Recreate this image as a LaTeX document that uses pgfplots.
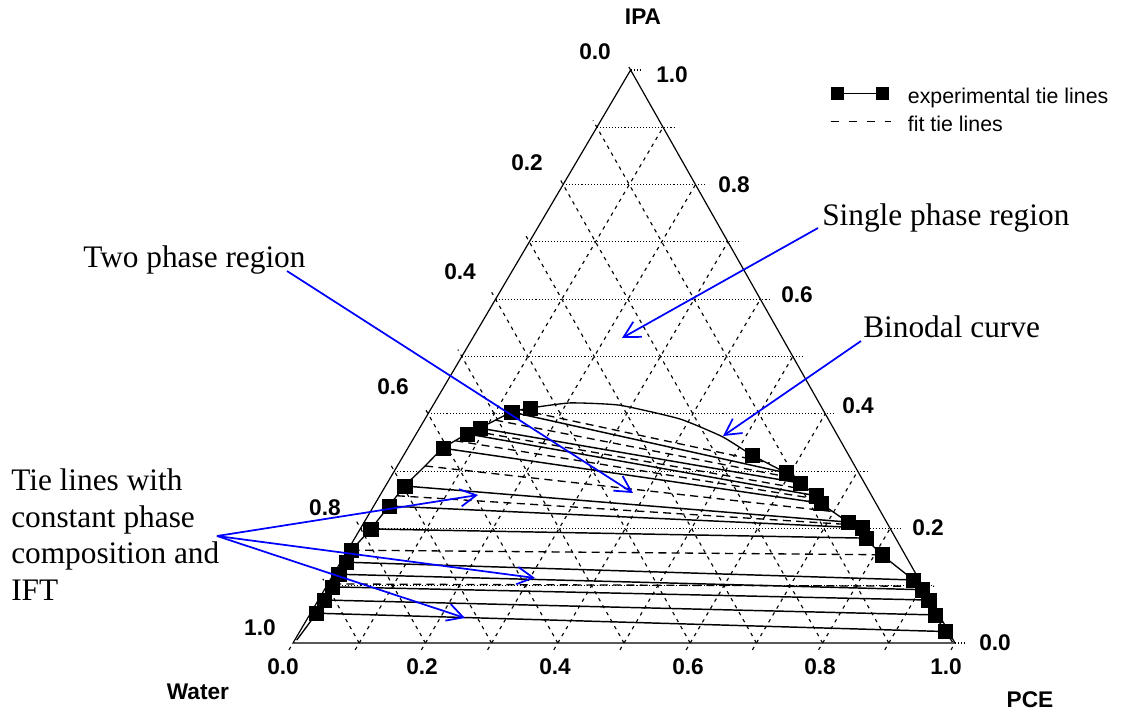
\documentclass[border=0pt]{standalone}
\usepackage{fontspec}
\setmainfont{Liberation Serif}
\newfontfamily\arial{Liberation Sans}
\usepackage{pgfplots}
\pgfplotsset{compat=1.18}
\usetikzlibrary{arrows.meta}
\definecolor{annblue}{RGB}{0,0,255}
% ternary (PCE, IPA) -> pixel frame of the reference
\newcommand\T[2]{({293+662*((#1)+0.51*(#2))},{643-573*(#2)})}
\tikzset{
  gdot/.style={black, line width=0.8pt, dash pattern=on 0.8pt off 1.5pt},
  gdash/.style={black, line width=0.85pt, dash pattern=on 2.6pt off 3.4pt},
  ann/.style={annblue, line width=1.3pt, -{Straight Barb[length=12pt,width=13pt,line width=1.3pt]}},
  tick/.style={font=\arial\bfseries\fontsize{17}{19}\selectfont, inner sep=0pt},
  txt/.style={font=\fontsize{23.5}{28}\selectfont, inner sep=0pt, anchor=base west}
}
\begin{document}
\begin{tikzpicture}
\begin{scope}[x=0.75pt,y=-0.75pt,yshift=536.25pt]
  % IPA = const (dotted, tick stub on right edge)
  \foreach \k in {1,...,9} {\draw[gdot] \T{0}{\k/10} -- \T{1-\k/10+0.016}{\k/10};}
  \draw[gdot] \T{1}{0} -- \T{1.016}{0};
  \draw[gdot] \T{0}{1} -- \T{0.016}{1};
  % PCE = const (dashed, stub below base)
  \foreach \k in {1,...,9} {\draw[gdash] \T{\k/10}{-0.012} -- \T{\k/10}{1-\k/10};}
  \draw[gdash] \T{0}{-0.012} -- \T{0}{0};
  \draw[gdash] \T{1}{-0.012} -- \T{1}{0};
  % Water = const (dashed, stub beyond left edge)
  \foreach \k in {1,...,9} {\draw[gdash] \T{1-\k/10}{0} -- \T{-0.012}{1-\k/10+0.012};}
  \draw[gdash] \T{0}{1} -- \T{-0.012}{1.012};
  % triangle
  \draw[black, line width=0.9pt] \T{0}{0} -- \T{1}{0} -- \T{0}{1} -- cycle;
\end{scope}

\begin{axis}[at={(0,0)}, anchor=south west, scale only axis,
  width=842.25pt, height=536.25pt,
  xmin=-0.44260, xmax=1.25378, ymin=-0.12565, ymax=1.12216,
  hide axis, clip=false,
  legend style={draw=none, fill=none, inner sep=0pt, outer sep=0pt,
    at={(axis description cs:0.7391,0.8778)}, anchor=north west,
    row sep=6pt, cells={anchor=west},
    font=\arial\fontsize{16}{18}\selectfont,
    nodes={inner sep=1pt, text height=10pt, text depth=3pt}},
]
\addlegendimage{legend image code/.code={
  \draw[black, line width=0.9pt, mark=square*, mark size=4.5pt] plot coordinates {(0pt,4pt) (34pt,4pt)};
  \path[draw=none, fill=none] (0pt,0pt) -- (52pt,0pt);}}
\addlegendentry{experimental tie lines}
\addlegendimage{legend image code/.code={
  \draw[black, line width=0.9pt, dash pattern=on 6pt off 7.5pt] (-5pt,4pt) -- (40pt,4pt);
  \path[draw=none, fill=none] (0pt,0pt) -- (52pt,0pt);}}
\addlegendentry{fit tie lines}

% binodal curve
\addplot[forget plot, black, line width=1pt, smooth, tension=0.3]
  table[x expr=\thisrow{pce}+0.51*\thisrow{ipa}, y=ipa] {
pce ipa
0.003 0.005
0.009 0.052
0.009 0.075
0.009 0.098
0.008 0.120
0.008 0.141
0.006 0.162
0.016 0.199
0.023 0.239
0.029 0.274
0.042 0.309
0.053 0.340
0.077 0.365
0.091 0.375
0.125 0.403
0.149 0.410
0.205 0.419
0.282 0.415
0.385 0.391
0.465 0.360
0.526 0.328
0.593 0.297
0.624 0.279
0.659 0.257
0.673 0.244
0.731 0.211
0.757 0.201
0.772 0.183
0.811 0.154
0.881 0.110
0.903 0.093
0.922 0.075
0.945 0.049
0.975 0.020
0.995 0.002
};

% fit tie lines
\addplot[forget plot, black, line width=1pt, dash pattern=on 6pt off 4pt, empty line=jump]
  table[x expr=\thisrow{pce}+0.51*\thisrow{ipa}, y=ipa] {
pce ipa
0.136 0.407
0.560 0.314

0.107 0.389
0.608 0.288

0.083 0.370
0.642 0.267

0.065 0.353
0.665 0.251

0.042 0.309
0.702 0.229

0.026 0.257
0.744 0.206

0.006 0.162
0.811 0.154

0.008 0.103
0.918 0.099
};

% experimental tie lines
\addplot[forget plot, black, line width=1.1pt, empty line=jump]
  table[x expr=\thisrow{pce}+0.51*\thisrow{ipa}, y=ipa] {
pce ipa
0.125 0.403
0.593 0.297

0.091 0.375
0.624 0.279

0.077 0.365
0.659 0.257

0.053 0.340
0.673 0.244

0.029 0.274
0.731 0.211

0.023 0.239
0.757 0.201

0.016 0.199
0.772 0.183

0.008 0.141
0.881 0.110

0.008 0.120
0.903 0.093

0.009 0.098
0.922 0.075

0.009 0.075
0.945 0.049

0.009 0.052
0.975 0.020
};

% experimental points
\addplot[forget plot, only marks, mark=square*, mark size=5.3pt, black]
  table[x expr=\thisrow{pce}+0.51*\thisrow{ipa}, y=ipa] {
pce ipa
0.149 0.410
0.125 0.403
0.091 0.375
0.077 0.365
0.053 0.340
0.029 0.274
0.023 0.239
0.016 0.199
0.006 0.162
0.008 0.141
0.008 0.120
0.009 0.098
0.009 0.075
0.009 0.052
0.526 0.328
0.593 0.297
0.624 0.279
0.659 0.257
0.673 0.244
0.731 0.211
0.757 0.201
0.772 0.183
0.811 0.154
0.881 0.110
0.903 0.093
0.922 0.075
0.945 0.049
0.975 0.020
};
\end{axis}

\begin{scope}[x=0.75pt,y=-0.75pt,yshift=536.25pt]
  % vertex labels
  \node[tick] at (643,17) {IPA};
  \node[tick] at (198,692) {Water};
  \node[tick] at (1030,700) {PCE};
  % Water scale (left)
  \node[tick] at (595,52) {0.0};
  \node[tick] at (527,163) {0.2};
  \node[tick] at (460,272) {0.4};
  \node[tick] at (393,387) {0.6};
  \node[tick] at (325,508) {0.8};
  \node[tick] at (260,628) {1.0};
  % IPA scale (right)
  \node[tick] at (672,75) {1.0};
  \node[tick] at (734,185) {0.8};
  \node[tick] at (797,295) {0.6};
  \node[tick] at (858,406) {0.4};
  \node[tick] at (928,528) {0.2};
  \node[tick] at (995,643) {0.0};
  % PCE scale (bottom)
  \node[tick] at (283,667) {0.0};
  \node[tick] at (422,667) {0.2};
  \node[tick] at (555,667) {0.4};
  \node[tick] at (688,667) {0.6};
  \node[tick] at (820,667) {0.8};
  \node[tick] at (946,667) {1.0};
  % annotations
  \node[txt] at (83,268) {Two phase region};
  \draw[ann] (287,271) -- (633,493);
  \node[txt] at (822,226) {Single phase region};
  \draw[ann] (818,228) -- (622,338);
  \node[txt] at (863,337) {Binodal curve};
  \draw[ann] (861,341) -- (723,436);
  \node[txt] at (11,490) {Tie lines with};
  \node[txt] at (11,527) {constant phase};
  \node[txt] at (11,563) {composition and};
  \node[txt] at (11,600) {IFT};
  \draw[ann] (217,536) -- (478,495);
  \draw[ann] (217,536) -- (535,578);
  \draw[ann] (217,536) -- (465,618);
\end{scope}
\pgfresetboundingbox
\path (0,0) rectangle (842.25pt,536.25pt);
\end{tikzpicture}
\end{document}
